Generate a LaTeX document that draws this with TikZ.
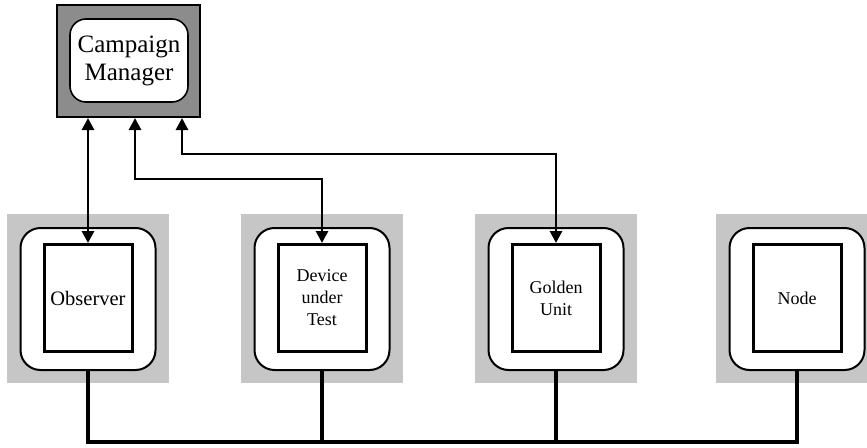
\documentclass[tikz,border=0pt]{standalone}
\usepackage{fontspec}
\setmainfont{Liberation Serif}
\usetikzlibrary{arrows.meta}
\tikzset{
    backdrop/.style={
        fill=gray!45,
        minimum width=162pt,
        minimum height=169pt,
        inner sep=0pt
    },
    unitframe/.style={
        draw,
        fill=white,
        rounded corners=20pt,
        line width=2pt,
        minimum width=135pt,
        minimum height=142pt
    },
    unitbox/.style={
        draw,
        fill=white,
        line width=3pt,
        minimum width=88pt,
        minimum height=107pt,
        align=center,
        font=\fontsize{18}{22}\selectfont
    },
    link/.style={
        {Triangle[length=12pt, width=12pt]}-{Triangle[length=12pt, width=12pt]},
        line width=2.8pt
    },
    bus/.style={
        line width=4.5pt
    }
}

\begin{document}
\begin{tikzpicture}[x=1pt, y=-1pt]
    \useasboundingbox (0,0) rectangle (867,447);

    \node[draw, fill=gray!90, line width=2pt, minimum width=143pt, minimum height=112pt] (cmb) at (128.5,61) {};
    \node[draw, fill=white, rounded corners=16pt, line width=1.6pt, minimum width=118pt, minimum height=83pt, align=center, font=\fontsize{25}{28}\selectfont] (cm) at (129,60.5) {Campaign\\Manager};

    \node[backdrop] (obsbg) at (88,298.5) {};
    \node[unitframe] (obsfr) at (88,299) {};
    \node[unitbox, font=\fontsize{20.5}{24}\selectfont] (obs) at (88,298) {Observer};

    \node[backdrop] (dutbg) at (322,298.5) {};
    \node[unitframe] (dutfr) at (322,299) {};
    \node[unitbox] (dut) at (322,298) {Device\\under\\Test};

    \node[backdrop] (gubg) at (556,298.5) {};
    \node[unitframe] (gufr) at (556,299) {};
    \node[unitbox] (gu) at (556,298) {Golden\\Unit};

    \node[backdrop] (ndbg) at (797,298.5) {};
    \node[unitframe] (ndfr) at (797,299) {};
    \node[unitbox] (nd) at (797,298) {Node};

    \coordinate (cmdut) at (135,118);
    \coordinate (cmgu) at (182,118);

    \draw[link] (cmb.south -| obs.north) -- (obs.north);
    \draw[link] (cmdut) -- ++(0,61) -| (dut.north);
    \draw[link] (cmgu) -- ++(0,36) -| (gu.north);

    \draw[bus] (obsfr.south) -- ++(0,71) -| (ndfr.south);
    \draw[bus] (dutfr.south) -- ++(0,71);
    \draw[bus] (gufr.south) -- ++(0,71);
\end{tikzpicture}
\end{document}
